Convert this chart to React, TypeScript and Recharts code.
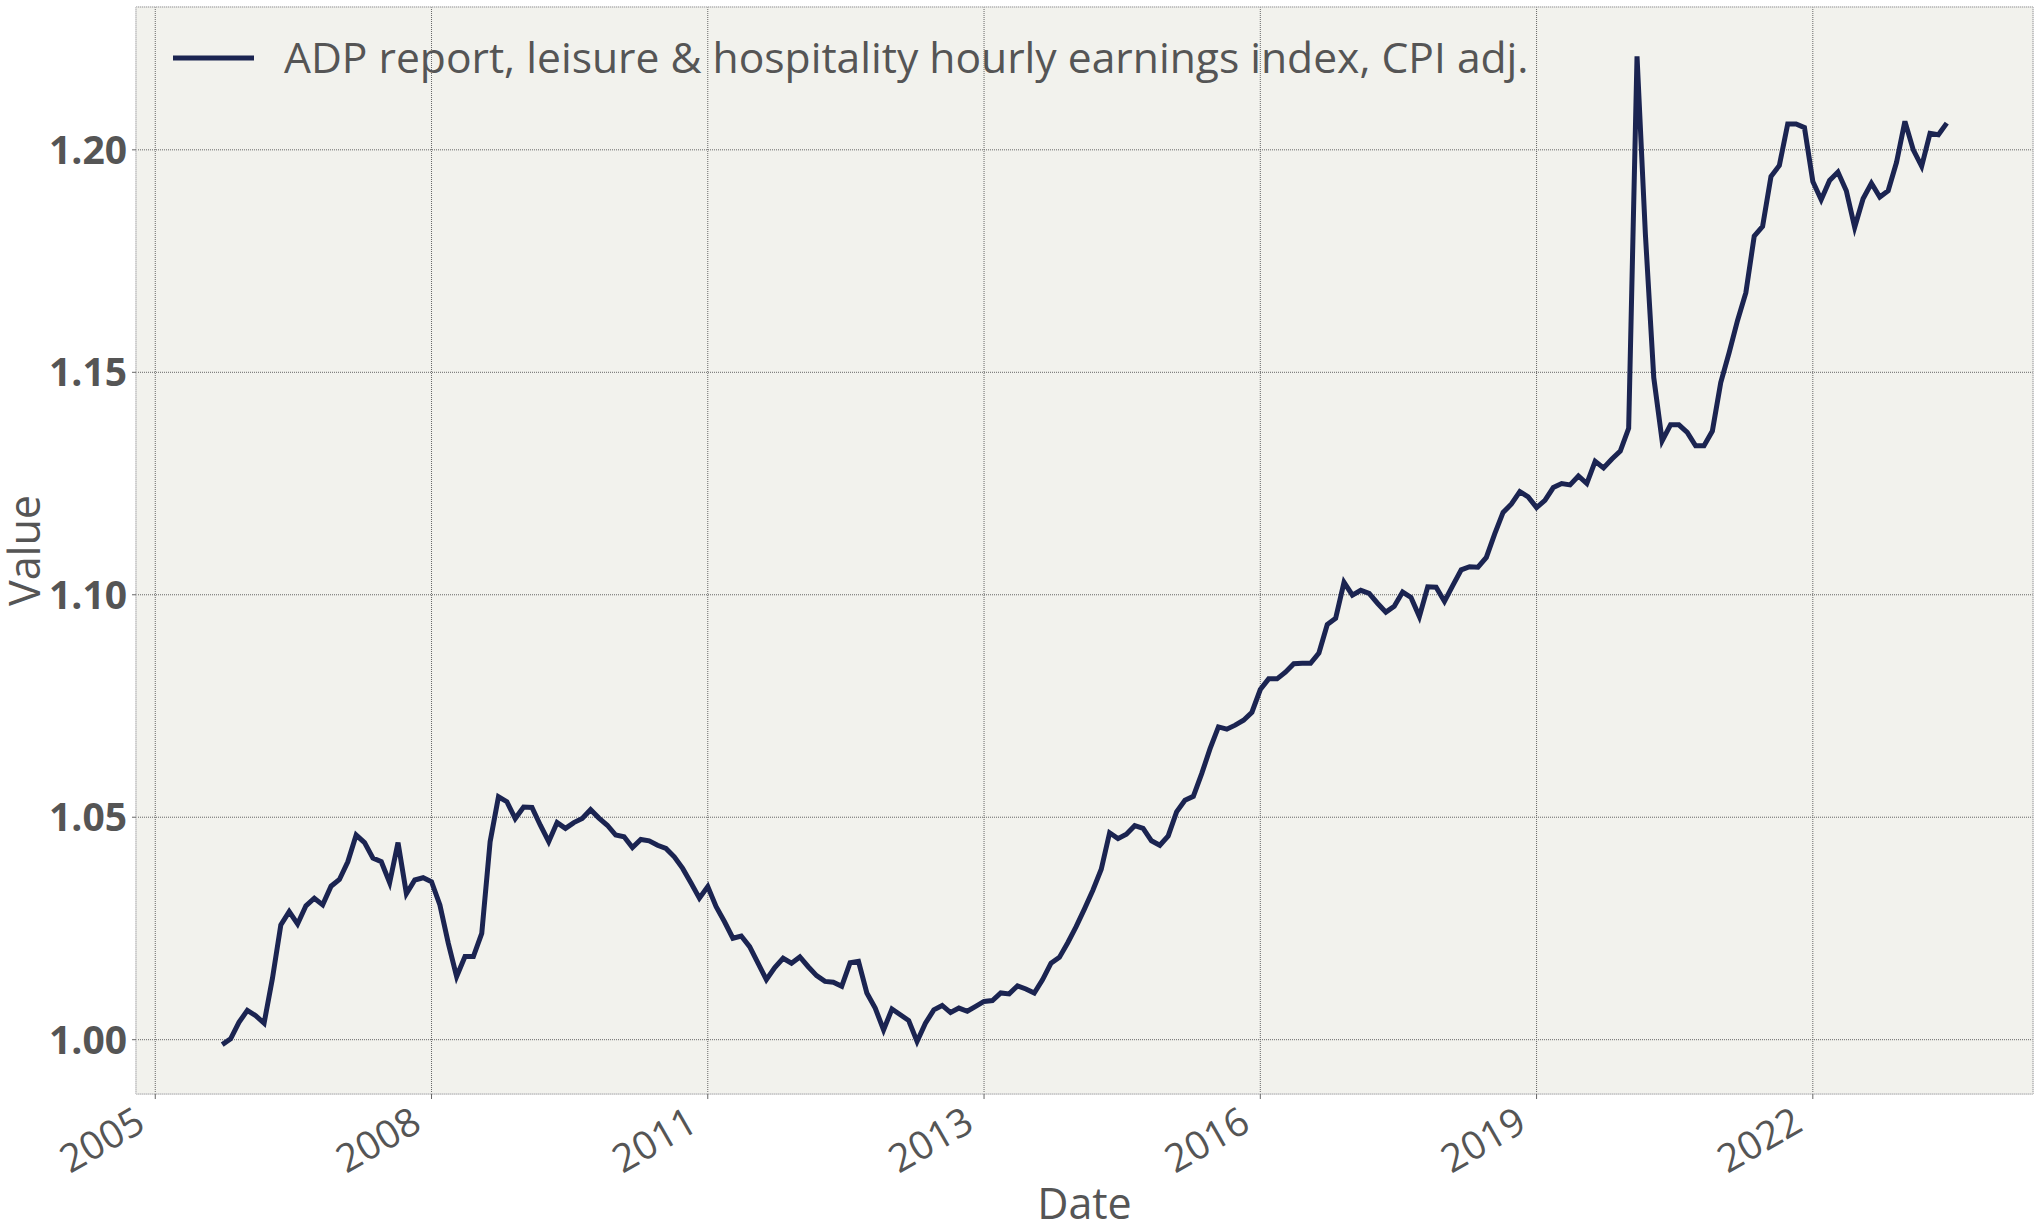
import {
  LineChart,
  Line,
  XAxis,
  YAxis,
  CartesianGrid,
  Legend,
  Label,
  ReferenceArea,
} from "recharts";

// monthly index, first value is March 2006
const START_YEAR = 2006;
const START_MONTH = 3;

const earnings2006 = [0.9989, 1.0002, 1.0039, 1.0066, 1.0054, 1.0037, 1.0138, 1.0258, 1.0288, 1.026];
const earnings2007 = [1.0301, 1.0318, 1.0303, 1.0345, 1.036, 1.04, 1.046, 1.0443, 1.0408, 1.04, 1.0353, 1.0443];
const earnings2008 = [1.0328, 1.0359, 1.0364, 1.0355, 1.0303, 1.0217, 1.0142, 1.0187, 1.0187, 1.0239, 1.0445, 1.0546];
const earnings2009 = [1.0535, 1.0497, 1.0523, 1.0522, 1.0482, 1.0445, 1.0488, 1.0475, 1.0488, 1.0497, 1.0517, 1.0498];
const earnings2010 = [1.0482, 1.046, 1.0456, 1.0432, 1.045, 1.0447, 1.0437, 1.043, 1.0411, 1.0385, 1.0352, 1.0318];
const earnings2011 = [1.0344, 1.0299, 1.0265, 1.0228, 1.0233, 1.0209, 1.0172, 1.0135, 1.0162, 1.0183, 1.0172, 1.0186];
const earnings2012 = [1.0164, 1.0144, 1.0131, 1.0129, 1.012, 1.0173, 1.0176, 1.0105, 1.0071, 1.0022, 1.0069, 1.0056];
const earnings2013 = [1.0043, 0.9996, 1.0037, 1.0067, 1.0077, 1.0061, 1.0071, 1.0064, 1.0075, 1.0086, 1.0088, 1.0105];
const earnings2014 = [1.0103, 1.0121, 1.0114, 1.0105, 1.0135, 1.0172, 1.0185, 1.0218, 1.0254, 1.0294, 1.0336, 1.0383];
const earnings2015 = [1.0465, 1.0452, 1.0462, 1.0481, 1.0475, 1.0447, 1.0437, 1.0458, 1.0512, 1.0538, 1.0547, 1.0598];
const earnings2016 = [1.0654, 1.0703, 1.0698, 1.0707, 1.0718, 1.0736, 1.0787, 1.0811, 1.0811, 1.0826, 1.0845, 1.0846];
const earnings2017 = [1.0846, 1.0869, 1.0933, 1.0947, 1.1028, 1.0999, 1.101, 1.1003, 1.0981, 1.0961, 1.0974, 1.1006];
const earnings2018 = [1.0994, 1.0951, 1.1018, 1.1017, 1.0985, 1.1021, 1.1056, 1.1063, 1.1062, 1.1084, 1.1137, 1.1185];
const earnings2019 = [1.1204, 1.1232, 1.122, 1.1196, 1.1212, 1.1241, 1.125, 1.1247, 1.1267, 1.125, 1.13, 1.1285];
const earnings2020 = [1.1305, 1.1323, 1.1374, 1.221, 1.181, 1.1488, 1.1346, 1.1382, 1.1382, 1.1365, 1.1335, 1.1335];
const earnings2021 = [1.1368, 1.1477, 1.1544, 1.1616, 1.1679, 1.1806, 1.1828, 1.194, 1.1965, 1.2058, 1.2058, 1.205];
const earnings2022 = [1.1929, 1.1888, 1.1931, 1.195, 1.1908, 1.1826, 1.189, 1.1925, 1.1894, 1.1908, 1.1972, 1.2064];
const earnings2023 = [1.2, 1.1963, 1.2037, 1.2034, 1.206];

const xTicks = [2005.5, 2008.25, 2011, 2013.75, 2016.5, 2019.25, 2022];
const yTicks = [1.0, 1.05, 1.1, 1.15, 1.2];

const SERIES_NAME = "ADP report, leisure & hospitality hourly earnings index, CPI adj.";

const values = [
  ...earnings2006, ...earnings2007, ...earnings2008, ...earnings2009, ...earnings2010,
  ...earnings2011, ...earnings2012, ...earnings2013, ...earnings2014, ...earnings2015,
  ...earnings2016, ...earnings2017, ...earnings2018, ...earnings2019, ...earnings2020,
  ...earnings2021, ...earnings2022, ...earnings2023,
];

const data = values.map((value, i) => ({
  date: START_YEAR + (START_MONTH - 1 + i) / 12,
  value,
}));

// matplotlib-style 5% margins
const xFirst = data[0].date;
const xLast = data[data.length - 1].date;
const xPad = (xLast - xFirst) * 0.05;
const yLow = Math.min(...values);
const yHigh = Math.max(...values);
const yPad = (yHigh - yLow) * 0.05;
const xDomain = [xFirst - xPad, xLast + xPad];
const yDomain = [yLow - yPad, yHigh + yPad];

const FONT = "'Open Sans', sans-serif";
const TEXT = "#555555";
const LINE = "#1b2451";

function DateTick({ x, y, payload }: any) {
  return (
    <g transform={`translate(${x - 22},${y + 4})`}>
      <text
        x={0}
        y={0}
        dy="0.72em"
        textAnchor="end"
        transform="rotate(-30)"
        fill={TEXT}
        fontSize={39}
        fontFamily={FONT}
      >
        {Math.floor(payload.value + 1e-6)}
      </text>
    </g>
  );
}

function LegendBox() {
  return (
    <svg width={1600} height={100}>
      <line x1={173} y1={58} x2={254} y2={58} stroke={LINE} strokeWidth={5} />
      <text x={284} y={73} fill={TEXT} fontSize={42.6} fontFamily={FONT}>
        {SERIES_NAME}
      </text>
    </svg>
  );
}

export default function App() {
  return (
    <div style={{ position: "absolute", left: 0, top: 0, width: 2040, height: 1232, background: "#fff" }}>
      <LineChart
        width={2040}
        height={1232}
        data={data}
        margin={{ top: 7, right: 7, bottom: 0, left: 0 }}
      >
        <CartesianGrid
          fill="#f2f2ed"
          stroke="#666"
          strokeWidth={1}
          strokeDasharray="1 1"
        />
        <XAxis
          dataKey="date"
          type="number"
          domain={xDomain}
          ticks={xTicks}
          interval={0}
          allowDataOverflow
          height={138}
          tick={<DateTick />}
          tickSize={5}
          tickLine={{ stroke: "#666" }}
          axisLine={{ stroke: "#d8d8d8" }}
        >
          <Label
            content={({ viewBox }: any) => (
              <text
                x={viewBox.x + viewBox.width / 2}
                y={1219}
                textAnchor="middle"
                fill={TEXT}
                fontSize={43}
                fontFamily={FONT}
              >
                Date
              </text>
            )}
          />
        </XAxis>
        <YAxis
          type="number"
          domain={yDomain}
          ticks={yTicks}
          allowDataOverflow
          width={136}
          tickFormatter={(v: number) => v.toFixed(2)}
          tick={{ fill: TEXT, fontSize: 39, fontWeight: 700, fontFamily: FONT }}
          tickSize={4}
          tickMargin={5}
          tickLine={{ stroke: "#666" }}
          axisLine={{ stroke: "#d8d8d8" }}
        >
          <Label
            content={({ viewBox }: any) => (
              <text
                x={40}
                y={viewBox.y + viewBox.height / 2}
                textAnchor="middle"
                transform={`rotate(-90, 40, ${viewBox.y + viewBox.height / 2})`}
                fill={TEXT}
                fontSize={43}
                fontFamily={FONT}
              >
                Value
              </text>
            )}
          />
        </YAxis>
        <ReferenceArea
          x1={xDomain[0]}
          x2={xDomain[1]}
          y1={yDomain[0]}
          y2={yDomain[1]}
          fill="none"
          stroke="#d8d8d8"
          ifOverflow="visible"
        />
        <Legend
          layout="horizontal"
          verticalAlign="middle"
          align="center"
          wrapperStyle={{ left: 0, top: 0, width: 1600, height: 100 }}
          content={() => <LegendBox />}
        />
        <Line
          type="linear"
          dataKey="value"
          name={SERIES_NAME}
          stroke={LINE}
          strokeWidth={5}
          dot={false}
          isAnimationActive={false}
        />
      </LineChart>
    </div>
  );
}
